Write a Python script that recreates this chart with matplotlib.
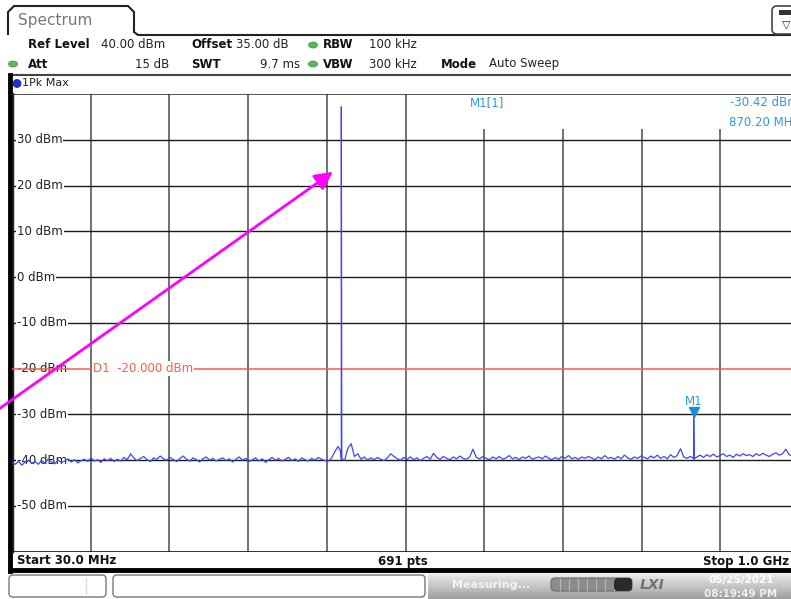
import numpy as np
import matplotlib.pyplot as plt
import matplotlib.transforms as mtransforms
from matplotlib.patches import FancyBboxPatch, Rectangle, Ellipse, Circle, PathPatch
from matplotlib.path import Path

W, H = 791, 599

# sweep settings
f_start, f_stop = 30.0, 1000.0   # MHz
ref_level = 40.0                 # dBm, top of screen
db_per_div = 10.0
d1_level = -20.0

# max-hold noise floor, dBm, evenly spread over the sweep
noise_dbm = [
    -40.5, -40.9, -40.2, -41.1, -40.4, -40.0, -40.7, -40.3, -40.9, -40.1, -40.6, -39.8, -40.4, -40.8, -40.0, -40.5,
    -40.2, -39.7, -40.4, -39.9, -40.6, -40.1, -39.8, -40.3, -39.5, -40.2, -39.9, -40.5, -39.7, -40.1, -39.6, -40.3,
    -39.8, -40.2, -39.4, -39.9, -38.6, -39.5, -40.1, -39.6, -39.2, -39.9, -40.3, -39.5, -39.8, -39.1, -39.7, -40.0,
    -39.4, -39.9, -40.3, -39.6, -39.1, -39.8, -40.2, -39.5, -39.9, -40.4, -39.7, -39.3, -40.0, -39.6, -40.2, -39.8,
    -39.5, -40.1, -39.7, -40.4, -39.8, -39.3, -40.0, -39.6, -40.3, -39.9, -39.5, -40.2, -39.7, -40.5, -39.9, -39.4,
    -40.0, -39.6, -40.2, -39.8, -39.4, -40.1, -39.7, -40.3, -39.5, -39.9, -40.2, -39.6, -40.0, -39.4, -39.8, -40.1,
    -40.2, -39.6, -38.2, -37.0, -39.8, -40.1, -37.4, -36.4, -39.2, -38.6, -39.8, -39.3, -40.0, -39.5, -39.9, -39.4,
    -39.8, -40.1, -39.5, -38.6, -39.2, -39.7, -40.0, -39.4, -39.8, -39.3, -39.9, -39.5, -40.1, -39.6, -39.2, -39.8,
    -38.5, -39.4, -39.8, -39.2, -39.6, -39.9, -39.3, -39.7, -39.1, -39.6, -39.8, -39.3, -37.6, -39.4, -39.7, -39.2,
    -39.6, -39.9, -39.3, -39.7, -39.2, -39.8, -39.5, -39.0, -39.7, -39.4, -39.9, -39.3, -39.6, -39.1, -39.8, -39.5,
    -39.3, -39.7, -39.1, -39.6, -39.9, -39.4, -39.8, -39.2, -39.6, -39.0, -39.7, -39.4, -39.8, -39.3, -39.6, -39.2,
    -39.5, -39.9, -39.3, -39.7, -39.0, -39.6, -39.4, -39.8, -39.2, -39.7, -38.9, -39.5, -39.8, -39.3, -39.6, -39.1,
    -39.4, -39.7, -39.1, -39.5, -38.9, -39.6, -39.2, -39.7, -38.8, -39.4, -39.0, -37.5, -39.3, -39.6, -39.2, -39.8,
    -39.3, -38.9, -39.4, -38.8, -39.2, -38.7, -39.3, -39.0, -38.6, -39.2, -38.9, -39.4, -38.7, -39.1, -38.6, -39.0,
    -38.8, -39.2, -38.6, -39.0, -38.5, -38.9, -39.2, -38.7, -38.4, -38.9, -38.6, -37.6, -38.8, -39.1, -38.6, -38.9,
]

# carrier and marker spur, with the sweep points right beside them
spur_mhz = [435.3, 435.9, 436.5, 869.5, 870.2, 870.9]
spur_dbm = [-38.2, 37.2, -39.6, -39.5, -30.42, -39.7]

marker_mhz = 870.20
marker_dbm = -30.42

f_noise = np.linspace(f_start, f_stop, len(noise_dbm))
freq = np.concatenate([f_noise, spur_mhz])
level = np.concatenate([noise_dbm, spur_dbm])
order = np.argsort(freq)
freq, level = freq[order], level[order]

fig = plt.figure(figsize=(W / 100, H / 100), dpi=100)
fig.patch.set_facecolor('white')

# ---- instrument frame, drawn in screen pixels ----
ui = fig.add_axes([0, 0, 1, 1], zorder=0)
ui.axis('off')

tab = Path([(8, 35), (8, 12), (14, 6), (128, 6), (134, 12), (134, 32), (138, 35), (W, 35)])
ui.add_patch(PathPatch(tab, fill=False, lw=1.5, ec='#222222'))
ui.text(18, 21, 'Spectrum', fontsize=11, color='#777777', va='center')
ui.add_patch(FancyBboxPatch((772, 6), 30, 28, boxstyle='round,pad=0,rounding_size=5',
                            fc='white', ec='#444444', lw=1.2))
ui.add_patch(Rectangle((779, 10), 14, 5, fc='#333333', ec='none'))
ui.text(786, 24, '\u25bd', fontsize=8, ha='center', va='center', color='#333333')

bold = dict(fontsize=8.5, fontweight='bold', color='#111111', va='center')
norm = dict(fontsize=8.5, color='#222222', va='center')
ui.text(28, 45, 'Ref Level', **bold)
ui.text(101, 45, '40.00 dBm', **norm)
ui.text(191, 45, 'Offset', **bold)
ui.text(236, 45, '35.00 dB', **norm)
ui.text(323, 45, 'RBW', **bold)
ui.text(369, 45, '100 kHz', **norm)
ui.text(28, 64, 'Att', **bold)
ui.text(169, 64, '15 dB', ha='right', **norm)
ui.text(191, 64, 'SWT', **bold)
ui.text(300, 64, '9.7 ms', ha='right', **norm)
ui.text(323, 64, 'VBW', **bold)
ui.text(369, 64, '300 kHz', **norm)
ui.text(441, 64, 'Mode', **bold)
ui.text(489, 64, 'Auto Sweep', **norm)
for x, y in [(313, 45), (313, 64), (13, 64)]:
    ui.add_patch(Ellipse((x, y), 9, 6, fc='#5cb85c', ec='#3d8b3d', lw=0.5))

# trace window
ui.plot([10, W], [75, 75], color='#444444', lw=1.5)
ui.plot([10, 10], [75, 571], color='black', lw=3.5)
ui.plot([12.5, 12.5], [93, 552], color='#222222', lw=1)
ui.plot([10, W], [570, 570], color='black', lw=3.5)
ui.add_patch(Circle((17, 83.5), 4, fc='#1a33d6', ec='#0a1a90', lw=0.5))
ui.text(22, 83.5, '1Pk Max', fontsize=8, color='#222222', va='center')
ui.text(17, 561, 'Start 30.0 MHz', **bold)
ui.text(403, 561, '691 pts', ha='center', **bold)
ui.text(789, 561, 'Stop 1.0 GHz', ha='right', **bold)

# status bar
ui.add_patch(FancyBboxPatch((9, 575), 97, 22, boxstyle='round,pad=0,rounding_size=4',
                            fc='white', ec='#777777', lw=1))
ui.plot([86, 86], [578, 594], color='#dddddd', lw=1)
ui.add_patch(FancyBboxPatch((113, 575), 312, 22, boxstyle='round,pad=0,rounding_size=4',
                            fc='white', ec='#777777', lw=1))
grad = np.linspace(0.93, 0.62, 40).reshape(-1, 1)
ui.imshow(np.repeat(grad, 10, axis=1), cmap='gray', vmin=0, vmax=1, aspect='auto',
          extent=(428, W, H, 573), zorder=1)
ui.text(452, 585, 'Measuring...', fontsize=8, fontweight='bold', color='#f4f4f4', va='center', zorder=2)
ui.add_patch(FancyBboxPatch((551, 578), 81, 13, boxstyle='round,pad=0,rounding_size=4',
                            fc='#8c8c8c', ec='#6a6a6a', lw=0.8, zorder=2))
for k in range(1, 9):
    ui.plot([551 + 9 * k, 551 + 9 * k], [579, 590], color='#b8b8b8', lw=0.8, zorder=3)
ui.add_patch(FancyBboxPatch((614, 578), 18, 13, boxstyle='round,pad=0,rounding_size=4',
                            fc='#2a2a2a', ec='none', zorder=3))
ui.text(652, 585, 'LXI', fontsize=10, fontweight='bold', style='italic', color='#707070',
        ha='center', va='center', zorder=2)
ui.text(741, 580, '05/25/2021', fontsize=7.5, fontweight='bold', color='white', ha='center', va='center', zorder=2)
ui.text(741, 594, '08:19:49 PM', fontsize=7.5, fontweight='bold', color='#f0f0f0', ha='center', va='center', zorder=2)
ui.set_xlim(0, W)
ui.set_ylim(H, 0)

# ---- spectrum diagram ----
top_px, bot_px = 94, 551.7
width_px = 787   # ten divisions; the last bit is off screen
height_px = bot_px - top_px
ax = fig.add_axes([12 / W, 1 - bot_px / H, width_px / W, height_px / H], zorder=1)
ax.set_facecolor('none')
ax.set_xlim(f_start, f_stop)
ax.set_ylim(ref_level - 10 * db_per_div, ref_level)
for s in ax.spines.values():
    s.set_visible(False)
ax.set_xticks([])
ax.set_yticks([])

div = (f_stop - f_start) / 10
for i in range(1, 10):
    ax.axvline(f_start + i * div, color='#4a4a4a', lw=1.1, zorder=1)
for v in np.arange(ref_level - 9 * db_per_div, ref_level, db_per_div):
    if v != d1_level:
        ax.axhline(v, color='#1a1a1a', lw=1, zorder=1)
    ax.text(5 / width_px, v, f'{v:.0f} dBm', transform=ax.get_yaxis_transform(),
            fontsize=8.5, color='#222222', va='center', ha='left', zorder=2,
            bbox=dict(fc='white', ec='none', pad=0.6))
ax.axhline(ref_level, color='#333333', lw=1.2, zorder=3)
ax.axhline(ref_level - 10 * db_per_div, color='#111111', lw=1.2, zorder=1)

# white marker info box hides the top of the grid
ax.add_patch(Rectangle((0.544, 0.924), 0.46, 0.076, transform=ax.transAxes,
                       fc='white', ec='none', zorder=2))
mblue = '#2b9be0'
to_ax = lambda px: (px - 12) / width_px
ax.text(to_ax(470), 1 - 9 / height_px, 'M1[1]', transform=ax.transAxes, fontsize=8.5,
        color=mblue, va='center', zorder=3)
ax.text(to_ax(799), 1 - 9 / height_px, f'{marker_dbm:.2f} dBm', transform=ax.transAxes, fontsize=8.5,
        color=mblue, va='center', ha='right', zorder=3)
ax.text(to_ax(799), 1 - 28 / height_px, f'{marker_mhz:.2f} MHz', transform=ax.transAxes, fontsize=8.5,
        color=mblue, va='center', ha='right', zorder=3)

# display line D1
ax.axhline(d1_level, color='#ff5a46', lw=1.1, zorder=3)
ax.text(to_ax(93), d1_level, f'D1  {d1_level:.3f} dBm', transform=ax.get_yaxis_transform(),
        fontsize=8.5, color='#ff5a46', va='center', zorder=4,
        bbox=dict(fc='white', ec='none', pad=0.6))

# trace
ax.plot(freq, level, color='#3f48f0', lw=0.9, zorder=5)

# marker M1
lift = mtransforms.ScaledTranslation(0, 4 / 100, fig.dpi_scale_trans)
ax.plot([marker_mhz], [marker_dbm], marker='v', ms=7, color='#1a8fd8', zorder=6,
        transform=ax.transData + lift)
ax.annotate('M1', (marker_mhz, marker_dbm), xytext=(0, 10.5), textcoords='offset points',
            ha='center', va='center', fontsize=8.5, color=mblue, zorder=6)

# magenta pointer towards the carrier
ax.annotate('', xy=(425.6, 23.0), xytext=(3.0, -30.2), annotation_clip=False,
            arrowprops=dict(arrowstyle='-|>,head_length=0.6,head_width=0.3', color='#ff00ff',
                            lw=2, mutation_scale=18, shrinkA=0, shrinkB=0), zorder=7)

fig.savefig('out.png', dpi=100)
